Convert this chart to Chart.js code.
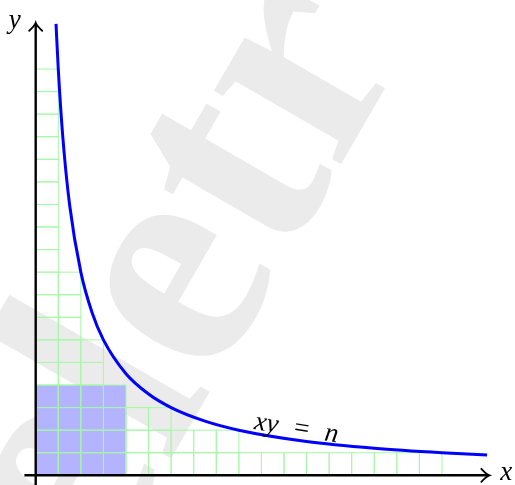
<!DOCTYPE html>
<html>
<head>
<meta charset="utf-8">
<script src="https://cdn.jsdelivr.net/npm/chart.js@4.4.0/dist/chart.umd.min.js"></script>
<style>
  body { margin: 0; background: #fff; }
</style>
</head>
<body>
<canvas id="chart" width="515" height="485"></canvas>
<script>
// Banyaknya sel tiap baris (baris ke-1 di bawah)
const rowLengths = [18, 9, 6, 4, 3, 3, 2, 2, 2, 1, 1, 1, 1, 1, 1, 1, 1, 1];
// Persegi biru 4 x 4
const squareX = [0, 4];
const squareY = [4, 4];
// Titik kurva xy = n (n = 18)
const curveX = [0.9, 1, 1.2, 1.5, 2, 2.5, 3, 4, 5, 6, 7.5, 9, 12, 15, 18, 20];
const curveY = [20, 18, 15, 12, 9, 7.2, 6, 4.5, 3.6, 3, 2.4, 2, 1.5, 1.2, 1, 0.9];
// Ujung sumbu
const axisX = [-0.5, 20.1];
const axisY = [-0.45, 20.05];
const curveLabel = ['xy', '=', 'n'];
const labelPos = [9.65, 2.05];

function arrowHead(ctx, x, y, angle) {
    ctx.save();
    ctx.translate(x, y);
    ctx.rotate(angle);
    ctx.beginPath();
    ctx.moveTo(-8, -6.5);
    ctx.quadraticCurveTo(-3, -1, 0, 0);
    ctx.quadraticCurveTo(-3, 1, -8, 6.5);
    ctx.stroke();
    ctx.restore();
}

// Plugin watermark + grid + sumbu
Chart.register({
    id: 'decor',
    beforeDraw(chart) {
        const ctx = chart.ctx;
        ctx.save();
        ctx.fillStyle = '#fff';
        ctx.fillRect(0, 0, chart.width, chart.height);
        ctx.translate(168, 464);
        ctx.rotate(-60 * Math.PI / 180);
        ctx.fillStyle = '#ebebeb';
        ctx.font = "bold 320px 'Liberation Serif'";
        ctx.textBaseline = 'alphabetic';
        ctx.textAlign = 'left';
        ctx.fillText('eletr', -ctx.measureText('e').width, 0);
        ctx.restore();
    },
    afterDatasetDraw(chart, args) {
        if (args.index !== 0) return;
        const ctx = chart.ctx;
        const xs = chart.scales.x;
        const ys = chart.scales.y;
        ctx.save();
        ctx.strokeStyle = 'rgb(165,248,165)';
        ctx.lineWidth = 1;
        rowLengths.forEach((len, k) => {
            for (let i = 0; i < len; i++) {
                const x0 = xs.getPixelForValue(i);
                const x1 = xs.getPixelForValue(i + 1);
                const y0 = ys.getPixelForValue(k);
                const y1 = ys.getPixelForValue(k + 1);
                ctx.strokeRect(x0, y1, x1 - x0, y0 - y1);
            }
        });
        // sumbu
        ctx.strokeStyle = '#000';
        ctx.lineWidth = 2.4;
        const ox = xs.getPixelForValue(0);
        const oy = ys.getPixelForValue(0);
        const xTip = xs.getPixelForValue(axisX[1]);
        const yTip = ys.getPixelForValue(axisY[1]);
        ctx.beginPath();
        ctx.moveTo(xs.getPixelForValue(axisX[0]), oy);
        ctx.lineTo(xTip - 1, oy);
        ctx.moveTo(ox, ys.getPixelForValue(axisY[0]));
        ctx.lineTo(ox, yTip + 1);
        ctx.stroke();
        ctx.lineWidth = 1.8;
        ctx.lineCap = 'round';
        arrowHead(ctx, xTip, oy, 0);
        arrowHead(ctx, ox, yTip, -Math.PI / 2);
        ctx.restore();
    },
    afterDraw(chart) {
        const ctx = chart.ctx;
        const xs = chart.scales.x;
        const ys = chart.scales.y;
        const ox = xs.getPixelForValue(0);
        const oy = ys.getPixelForValue(0);
        ctx.save();
        ctx.fillStyle = '#000';
        ctx.font = "italic 27px 'Liberation Serif'";
        ctx.textBaseline = 'alphabetic';
        ctx.textAlign = 'left';
        ctx.fillText('y', ox - 27, ys.getPixelForValue(axisY[1]) + 5);
        ctx.fillText('x', xs.getPixelForValue(axisX[1]) + 11, oy + 5);
        // label kurva, miring mengikuti kurva
        ctx.translate(xs.getPixelForValue(labelPos[0]), ys.getPixelForValue(labelPos[1]));
        ctx.rotate(9 * Math.PI / 180);
        ctx.fillText(curveLabel[0], 0, 0);
        ctx.font = "27px 'Liberation Serif'";
        ctx.fillText(curveLabel[1], 40, 0);
        ctx.font = "italic 27px 'Liberation Serif'";
        ctx.fillText(curveLabel[2], 71, 0);
        ctx.restore();
    }
});

const unit = 22.57;
const originPx = [35.7, 475.3];

new Chart(document.getElementById('chart').getContext('2d'), {
    type: 'scatter',
    data: {
        datasets: [{
            data: squareX.map((x, i) => ({ x, y: squareY[i] })),
            showLine: true,
            fill: 'origin',
            backgroundColor: 'rgb(179,179,255)',
            borderWidth: 0,
            pointRadius: 0,
            order: 2
        }, {
            data: curveX.map((x, i) => ({ x, y: curveY[i] })),
            showLine: true,
            borderColor: '#0000ff',
            borderWidth: 3,
            pointRadius: 0,
            cubicInterpolationMode: 'monotone',
            fill: false,
            order: 1
        }]
    },
    options: {
        responsive: false,
        animation: false,
        layout: { padding: 0 },
        scales: {
            x: { type: 'linear', display: false, min: -originPx[0] / unit, max: (515 - originPx[0]) / unit },
            y: { type: 'linear', display: false, min: -(485 - originPx[1]) / unit, max: originPx[1] / unit }
        },
        plugins: {
            legend: { display: false },
            tooltip: { enabled: false }
        }
    }
});
</script>
</body>
</html>
